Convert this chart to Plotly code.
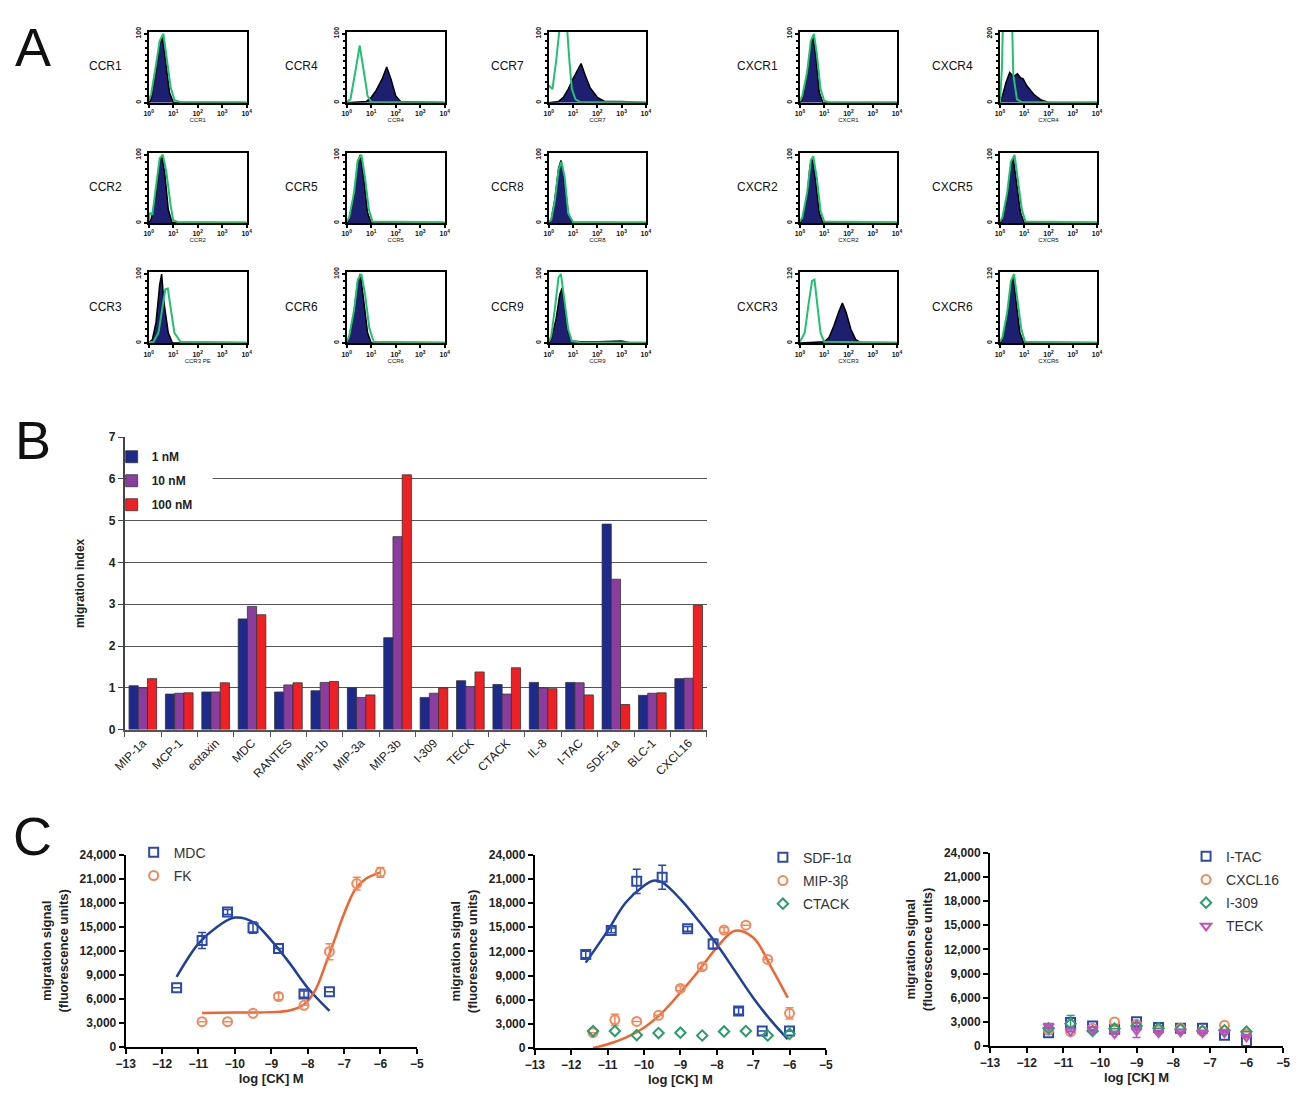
import plotly.graph_objects as go

OFF = 8                      # browser body margin
WF, HF = 1299, 1094
# measured page->picture mapping of the photographing step (picture = S*page + T)
SX, TX = 0.985, 12.5
SY, TY = 0.986, 7.4
FONT = "Liberation Sans"

# ======================= Panel A : flow histograms =======================
# x in log10 decades (10^0 .. 10^4), y in % of max
CCR1_navy_x = [0, 0.1, 0.3, 0.45, 0.57, 0.7, 0.85, 1.0, 4]
CCR1_navy_y = [0, 5, 45, 85, 95, 60, 15, 1, 0]
CCR1_green_x = [0, 0.1, 0.3, 0.45, 0.6, 0.72, 0.9, 1.05, 1.3, 4]
CCR1_green_y = [3, 12, 55, 90, 100, 70, 22, 4, 1, 1]

CCR4_navy_x = [0, 0.8, 1.0, 1.2, 1.45, 1.63, 1.8, 2.0, 2.2, 4]
CCR4_navy_y = [0, 2, 8, 18, 35, 52, 35, 10, 2, 0]
CCR4_green_x = [0, 0.15, 0.35, 0.53, 0.7, 0.85, 1.0, 4]
CCR4_green_y = [1, 5, 45, 83, 45, 10, 1, 1]

CCR7_navy_x = [0, 0.4, 0.6, 0.8, 1.0, 1.15, 1.33, 1.5, 1.7, 2.0, 2.3, 3.0, 3.5, 4]
CCR7_navy_y = [0, 2, 8, 20, 35, 45, 57, 40, 22, 8, 2, 2, 1, 0]
CCR7_green_x = [0, 0.15, 0.3, 0.45, 0.55, 0.75, 0.85, 0.95, 1.1, 1.3, 4]
CCR7_green_y = [25, 20, 60, 110, 115, 110, 60, 20, 5, 1, 1]

CXCR1_navy_x = [0, 0.1, 0.3, 0.45, 0.55, 0.65, 0.8, 0.95, 4]
CXCR1_navy_y = [0, 5, 40, 85, 95, 70, 15, 0, 0]
CXCR1_green_x = [0, 0.1, 0.3, 0.45, 0.58, 0.7, 0.85, 1.0, 1.2, 4]
CXCR1_green_y = [2, 10, 45, 90, 100, 70, 20, 3, 1, 1]

CXCR4_navy_x = [0, 0.1, 0.25, 0.4, 0.55, 0.72, 0.85, 0.95, 1.1, 1.4, 1.7, 2.05, 4]
CXCR4_navy_y = [0, 10, 30, 44, 38, 42, 36, 35, 25, 12, 4, 0, 0]
CXCR4_green_x = [0, 0.08, 0.12, 0.5, 0.55, 0.7, 0.9, 4]
CXCR4_green_y = [0, 50, 115, 115, 40, 5, 1, 1]

CCR2_navy_x = [0, 0.1, 0.3, 0.45, 0.55, 0.65, 0.8, 0.95, 4]
CCR2_navy_y = [0, 5, 40, 90, 100, 75, 20, 1, 0]
CCR2_green_x = [0, 0.05, 0.15, 0.3, 0.45, 0.58, 0.72, 0.9, 1.0, 1.2, 4]
CCR2_green_y = [3, 15, 12, 50, 95, 100, 75, 25, 4, 1, 1]

CCR5_navy_x = [0, 0.1, 0.3, 0.45, 0.55, 0.68, 0.85, 1.0, 4]
CCR5_navy_y = [0, 5, 40, 90, 100, 70, 15, 0, 0]
CCR5_green_x = [0, 0.1, 0.3, 0.45, 0.6, 0.75, 0.9, 1.05, 4]
CCR5_green_y = [2, 8, 45, 92, 100, 65, 20, 2, 1]

CCR8_navy_x = [0, 0.1, 0.25, 0.4, 0.5, 0.62, 0.8, 0.95, 4]
CCR8_navy_y = [0, 5, 35, 80, 92, 70, 15, 1, 0]
CCR8_green_x = [0, 0.1, 0.25, 0.4, 0.52, 0.65, 0.8, 1.0, 4]
CCR8_green_y = [1, 5, 33, 78, 90, 68, 14, 1, 1]

CXCR2_navy_x = [0, 0.1, 0.3, 0.42, 0.52, 0.62, 0.8, 0.95, 4]
CXCR2_navy_y = [0, 5, 40, 85, 95, 70, 15, 0, 0]
CXCR2_green_x = [0, 0.1, 0.3, 0.45, 0.55, 0.7, 0.85, 1.0, 4]
CXCR2_green_y = [2, 8, 45, 92, 98, 65, 18, 2, 1]

CXCR5_navy_x = [0, 0.1, 0.3, 0.45, 0.55, 0.67, 0.85, 1.0, 4]
CXCR5_navy_y = [0, 5, 40, 85, 95, 65, 15, 0, 0]
CXCR5_green_x = [0, 0.1, 0.3, 0.45, 0.6, 0.72, 0.9, 1.05, 4]
CXCR5_green_y = [2, 8, 45, 90, 100, 68, 20, 2, 1]

CCR3_navy_x = [0, 0.15, 0.3, 0.45, 0.53, 0.62, 0.8, 0.97, 4]
CCR3_navy_y = [0, 5, 30, 85, 100, 60, 15, 0, 0]
CCR3_green_x = [0, 0.2, 0.4, 0.55, 0.68, 0.78, 0.9, 1.05, 1.3, 4]
CCR3_green_y = [1, 2, 15, 50, 78, 79, 50, 15, 2, 1]

CCR6_navy_x = [0, 0.1, 0.3, 0.45, 0.56, 0.68, 0.85, 1.0, 4]
CCR6_navy_y = [0, 8, 45, 90, 100, 65, 15, 0, 0]
CCR6_green_x = [0, 0.1, 0.3, 0.45, 0.6, 0.75, 0.92, 1.1, 4]
CCR6_green_y = [2, 10, 48, 92, 100, 70, 22, 2, 1]

CCR9_navy_x = [0, 0.1, 0.3, 0.45, 0.55, 0.65, 0.8, 0.95, 1.3, 2.0, 2.5, 3.0, 3.3, 4]
CCR9_navy_y = [0, 5, 35, 70, 80, 55, 15, 3, 2, 2, 3, 3, 1, 0]
CCR9_green_x = [0, 0.1, 0.25, 0.4, 0.5, 0.62, 0.8, 0.95, 1.3, 4]
CCR9_green_y = [2, 10, 50, 95, 100, 70, 20, 3, 1, 1]

CXCR3_navy_x = [0, 1.0, 1.2, 1.4, 1.6, 1.75, 1.9, 2.1, 2.3, 2.5, 4]
CXCR3_navy_y = [0, 2, 8, 25, 45, 58, 45, 20, 5, 1, 0]
CXCR3_green_x = [0, 0.2, 0.35, 0.5, 0.6, 0.72, 0.85, 1.0, 4]
CXCR3_green_y = [2, 15, 55, 90, 92, 55, 15, 2, 1]

CXCR6_navy_x = [0, 0.1, 0.3, 0.45, 0.55, 0.66, 0.82, 0.98, 4]
CXCR6_navy_y = [0, 5, 40, 85, 95, 65, 15, 0, 0]
CXCR6_green_x = [0, 0.1, 0.3, 0.45, 0.58, 0.7, 0.88, 1.03, 4]
CXCR6_green_y = [2, 8, 45, 90, 100, 68, 20, 2, 1]

DECADE_TICKS = [0, 1, 2, 3, 4]
DECADE_LABELS = ["10<sup>0</sup>", "10<sup>1</sup>", "10<sup>2</sup>", "10<sup>3</sup>", "10<sup>4</sup>"]

A_PANELS = [
    ("CCR1", "CCR1", "100", CCR1_navy_x, CCR1_navy_y, CCR1_green_x, CCR1_green_y),
    ("CCR4", "CCR4", "100", CCR4_navy_x, CCR4_navy_y, CCR4_green_x, CCR4_green_y),
    ("CCR7", "CCR7", "100", CCR7_navy_x, CCR7_navy_y, CCR7_green_x, CCR7_green_y),
    ("CXCR1", "CXCR1", "100", CXCR1_navy_x, CXCR1_navy_y, CXCR1_green_x, CXCR1_green_y),
    ("CXCR4", "CXCR4", "200", CXCR4_navy_x, CXCR4_navy_y, CXCR4_green_x, CXCR4_green_y),
    ("CCR2", "CCR2", "100", CCR2_navy_x, CCR2_navy_y, CCR2_green_x, CCR2_green_y),
    ("CCR5", "CCR5", "100", CCR5_navy_x, CCR5_navy_y, CCR5_green_x, CCR5_green_y),
    ("CCR8", "CCR8", "100", CCR8_navy_x, CCR8_navy_y, CCR8_green_x, CCR8_green_y),
    ("CXCR2", "CXCR2", "100", CXCR2_navy_x, CXCR2_navy_y, CXCR2_green_x, CXCR2_green_y),
    ("CXCR5", "CXCR5", "100", CXCR5_navy_x, CXCR5_navy_y, CXCR5_green_x, CXCR5_green_y),
    ("CCR3", "CCR3 PE", "100", CCR3_navy_x, CCR3_navy_y, CCR3_green_x, CCR3_green_y),
    ("CCR6", "CCR6", "100", CCR6_navy_x, CCR6_navy_y, CCR6_green_x, CCR6_green_y),
    ("CCR9", "CCR9", "100", CCR9_navy_x, CCR9_navy_y, CCR9_green_x, CCR9_green_y),
    ("CXCR3", "CXCR3", "120", CXCR3_navy_x, CXCR3_navy_y, CXCR3_green_x, CXCR3_green_y),
    ("CXCR6", "CXCR6", "120", CXCR6_navy_x, CXCR6_navy_y, CXCR6_green_x, CXCR6_green_y),
]

# ======================= Panel B : migration index =======================
B_CATEGORIES = ["MIP-1a", "MCP-1", "eotaxin", "MDC", "RANTES", "MIP-1b", "MIP-3a", "MIP-3b",
                "I-309", "TECK", "CTACK", "IL-8", "I-TAC", "SDF-1a", "BLC-1", "CXCL16"]
B_1NM = [1.05, 0.85, 0.90, 2.65, 0.90, 0.93, 1.00, 2.20, 0.77, 1.17, 1.08, 1.13, 1.13, 4.92, 0.82, 1.22]
B_10NM = [1.00, 0.87, 0.90, 2.95, 1.07, 1.13, 0.77, 4.62, 0.87, 1.03, 0.85, 1.00, 1.12, 3.60, 0.87, 1.23]
B_100NM = [1.22, 0.88, 1.12, 2.75, 1.12, 1.15, 0.83, 6.10, 1.00, 1.38, 1.48, 0.98, 0.83, 0.60, 0.88, 2.97]

# ======================= Panel C : dose responses =======================
MDC_X = [-11.6, -10.9, -10.2, -9.5, -8.8, -8.1, -7.4]
MDC_Y = [7400, 13300, 16850, 14900, 12300, 6600, 6900]
MDC_ERR = [0, 1000, 300, 700, 0, 400, 0]
MDC_FIT_X = [-11.6, -11.0, -10.5, -10.0, -9.5, -9.0, -8.5, -8.0, -7.4]
MDC_FIT_Y = [8750, 12900, 14950, 16150, 15600, 13300, 10500, 7400, 4500]

FK_X = [-10.9, -10.2, -9.5, -8.8, -8.1, -7.4, -6.65, -6.0]
FK_Y = [3150, 3150, 4200, 6300, 5200, 11900, 20400, 21800]
FK_ERR = [0, 0, 0, 400, 0, 1000, 800, 600]
FK_FIT_X = [-10.9, -10.0, -9.0, -8.5, -8.1, -7.8, -7.5, -7.25, -7.0, -6.7, -6.4, -6.0]
FK_FIT_Y = [4250, 4300, 4350, 4550, 5300, 7000, 10400, 13500, 16600, 19600, 21000, 21800]

SDF_X = [-11.6, -10.9, -10.2, -9.5, -8.8, -8.1, -7.4, -6.75, -6.0]
SDF_Y = [11600, 14600, 20700, 21200, 14800, 12900, 4600, 2100, 2100]
SDF_ERR = [400, 300, 1500, 1500, 300, 600, 400, 0, 0]
SDF_FIT_X = [-11.6, -11.0, -10.5, -10.0, -9.75, -9.5, -9.0, -8.5, -8.0, -7.5, -7.0, -6.5, -6.05]
SDF_FIT_Y = [10600, 14550, 18070, 20150, 20770, 20560, 18490, 15790, 12890, 9570, 6250, 3360, 1100]

MIP3B_X = [-11.4, -10.8, -10.2, -9.6, -9.0, -8.4, -7.8, -7.2, -6.6, -6.0]
MIP3B_Y = [1900, 3500, 3300, 4050, 7400, 10100, 14650, 15250, 11000, 4300]
MIP3B_ERR = [0, 700, 0, 0, 300, 400, 300, 0, 0, 700]
MIP3B_FIT_X = [-11.4, -11.0, -10.5, -10.0, -9.5, -9.0, -8.5, -8.0, -7.5, -7.0, -6.5, -6.05]
MIP3B_FIT_Y = [0, 460, 1280, 2520, 4390, 6880, 9570, 12470, 14550, 13720, 9990, 6250]

CTACK_X = [-11.4, -10.8, -10.2, -9.6, -9.0, -8.4, -7.8, -7.2, -6.6, -6.0]
CTACK_Y = [2100, 2100, 1600, 1850, 1900, 1550, 2050, 2100, 1550, 1750]

C3_X = [-11.4, -10.8, -10.2, -9.6, -9.0, -8.4, -7.8, -7.2, -6.6, -6.0]
ITAC_Y = [1650, 2900, 2480, 2070, 3000, 2280, 2190, 2190, 1320, 540]
CXCL16_Y = [1950, 1780, 2190, 2980, 2690, 1950, 2190, 1860, 2570, 1450]
I309_Y = [2190, 2770, 1860, 2150, 2480, 2190, 2070, 1860, 1950, 1780]
I309_ERR = [0, 1000, 0, 0, 300, 0, 0, 0, 0, 0]
TECK_Y = [2480, 1860, 2070, 1530, 1950, 1650, 1740, 1650, 1650, 1120]
TECK_ERR = [0, 0, 0, 0, 900, 0, 0, 0, 0, 0]

# ======================= colours =======================
NAVY = "#1f1f72"
GREEN = "#22c071"
BAR_BLUE = "#1d2a8c"
BAR_PURPLE = "#8b3d9f"
BAR_RED = "#ee2024"
C_BLUE = "#2a49b0"
C_BLUE_LINE = "#1f3e9e"
C_ORANGE = "#f5875c"
C_ORANGE_LINE = "#f0652f"
C_GREEN = "#2a9d6b"
C_MAGENTA = "#c24dc0"


def px(a):
    return ((a - TX) / SX - OFF) / WF


def py(a):
    return 1 - ((a - TY) / SY - OFF) / HF


def dx(a, b):
    return [px(a), px(b)]


def dy(top, bot):
    return [py(bot), py(top)]


fig = go.Figure()
layout = dict(
    width=WF, height=HF, margin=dict(l=0, r=0, t=0, b=0),
    paper_bgcolor="white", plot_bgcolor="rgba(0,0,0,0)",
    font=dict(family=FONT, color="#222"),
    showlegend=True,
)

A_COLS = [(149, 247), (347, 445), (549, 646), (800, 897), (1000, 1097)]
A_ROWS = [(32, 103), (153, 223), (272, 343)]
A_LABEL_X = [106, 302, 508, 758, 953]

annotations = []
shapes = []
for i, (lab, xt, ytop, nx, ny, gx, gy) in enumerate(A_PANELS):
    r, c = divmod(i, 5)
    k = i + 1
    xa = "x" if k == 1 else f"x{k}"
    ya = "y" if k == 1 else f"y{k}"
    fig.add_trace(go.Scatter(x=nx, y=ny, mode="lines", fill="tozeroy", fillcolor=NAVY,
                             line=dict(color="black", width=1.5), xaxis=xa, yaxis=ya,
                             showlegend=False, hoverinfo="skip"))
    fig.add_trace(go.Scatter(x=gx, y=gy, mode="lines", line=dict(color=GREEN, width=2),
                             xaxis=xa, yaxis=ya, showlegend=False, hoverinfo="skip"))
    layout["xaxis" if k == 1 else f"xaxis{k}"] = dict(
        domain=dx(*A_COLS[c]), range=[0, 4], anchor=ya,
        showline=True, mirror=True, linecolor="black", linewidth=2,
        ticks="outside", ticklen=3, tickwidth=1.5, tickcolor="black",
        tickvals=DECADE_TICKS, ticktext=DECADE_LABELS,
        tickfont=dict(size=7, color="#111", weight="bold"),
        title=dict(text=xt, font=dict(size=6, color="#111"), standoff=0),
        showgrid=False, zeroline=False, fixedrange=True)
    layout["yaxis" if k == 1 else f"yaxis{k}"] = dict(
        domain=dy(*A_ROWS[r]), range=[0, 103], anchor=xa,
        showline=True, mirror=True, linecolor="black", linewidth=2,
        ticks="outside", ticklen=3, tickwidth=1.5, tickcolor="black",
        tickvals=[0, 100], ticktext=["0", ytop], tickangle=-90,
        tickfont=dict(size=7, color="#111", weight="bold"),
        minor=dict(dtick=10, ticks="outside", ticklen=2, tickcolor="black"),
        showgrid=False, zeroline=False, fixedrange=True)
    top, bot = A_ROWS[r]
    annotations.append(dict(text=lab, x=px(A_LABEL_X[c]), y=py((top + bot) / 2 - 1),
                            xref="paper", yref="paper", xanchor="center", yanchor="middle",
                            showarrow=False, font=dict(size=12, color="#111", family=FONT)))

# ---------------- Panel B ----------------
kB = 16
for name, vals, col in [("1 nM", B_1NM, BAR_BLUE), ("10 nM", B_10NM, BAR_PURPLE),
                        ("100 nM", B_100NM, BAR_RED)]:
    fig.add_trace(go.Bar(x=B_CATEGORIES, y=vals, name=name, marker=dict(color=col,
                         line=dict(color="#333", width=0.8)),
                         xaxis=f"x{kB}", yaxis=f"y{kB}", legend="legend", legendgroup=name))
layout["barmode"] = "group"
layout["bargap"] = 0.24
layout["bargroupgap"] = 0.0
layout[f"xaxis{kB}"] = dict(domain=dx(125, 707), anchor=f"y{kB}", type="category",
                            showline=True, linecolor="#555", linewidth=1.5,
                            ticks="outside", tickson="boundaries", ticklen=6, tickcolor="#555",
                            tickangle=-45, tickfont=dict(size=12, color="#222"),
                            showgrid=False, zeroline=False, fixedrange=True)
layout[f"yaxis{kB}"] = dict(domain=dy(437, 729), anchor=f"x{kB}", range=[0, 7], dtick=1,
                            showgrid=True, gridcolor="#555", gridwidth=1,
                            showline=True, linecolor="#444", linewidth=1.5,
                            ticks="outside", ticklen=5, tickcolor="#444",
                            tickfont=dict(size=12, color="#222", weight="bold"),
                            title=dict(text="migration index", font=dict(size=12, weight="bold"),
                                       standoff=22),
                            zeroline=False, fixedrange=True)
layout["legend"] = dict(x=px(112), y=py(442), xanchor="left", yanchor="top",
                        bgcolor="rgba(0,0,0,0)", font=dict(size=12, color="#222", weight="bold"),
                        tracegroupgap=5, itemwidth=30)
shapes.append(dict(type="rect", xref="paper", yref="paper", x0=px(127), x1=px(213),
                   y0=py(470), y1=py(488), fillcolor="white", line=dict(width=0), layer="above"))

# ---------------- Panel C ----------------
C_DOMAINS = [((126, 417), (854, 1046)), ((535, 826), (854, 1047)), ((990, 1283), (852, 1045))]


def scatter(k, x, y, name, symbol, color, err=None, legend=None, size=9):
    fig.add_trace(go.Scatter(
        x=x, y=y, mode="markers", name=name,
        marker=dict(symbol=symbol, size=size, color=color, line=dict(color=color, width=2)),
        error_y=dict(type="data", array=err, visible=True, color=color, thickness=1.5, width=4)
        if err else None,
        xaxis=f"x{k}", yaxis=f"y{k}", legend=legend, legendgroup=f"{legend}-{name}",
        showlegend=True))


def curve(k, x, y, color):
    fig.add_trace(go.Scatter(x=x, y=y, mode="lines", line=dict(color=color, width=2.5,
                             shape="spline", smoothing=1.0),
                             xaxis=f"x{k}", yaxis=f"y{k}", showlegend=False, hoverinfo="skip"))


curve(17, MDC_FIT_X, MDC_FIT_Y, C_BLUE_LINE)
curve(17, FK_FIT_X, FK_FIT_Y, C_ORANGE_LINE)
scatter(17, MDC_X, MDC_Y, "MDC", "square-open", C_BLUE, MDC_ERR, "legend2")
scatter(17, FK_X, FK_Y, "FK", "circle-open", C_ORANGE, FK_ERR, "legend2")

curve(18, SDF_FIT_X, SDF_FIT_Y, C_BLUE_LINE)
curve(18, MIP3B_FIT_X, MIP3B_FIT_Y, C_ORANGE_LINE)
scatter(18, SDF_X, SDF_Y, "SDF-1α", "square-open", C_BLUE, SDF_ERR, "legend3")
scatter(18, MIP3B_X, MIP3B_Y, "MIP-3β", "circle-open", C_ORANGE, MIP3B_ERR, "legend3")
scatter(18, CTACK_X, CTACK_Y, "CTACK", "diamond-open", C_GREEN, None, "legend3", size=8)

scatter(19, C3_X, ITAC_Y, "I-TAC", "square-open", C_BLUE, None, "legend4")
scatter(19, C3_X, CXCL16_Y, "CXCL16", "circle-open", C_ORANGE, None, "legend4")
scatter(19, C3_X, I309_Y, "I-309", "diamond-open", C_GREEN, I309_ERR, "legend4", size=8)
scatter(19, C3_X, TECK_Y, "TECK", "triangle-down-open", C_MAGENTA, TECK_ERR, "legend4")

for j, ((x0, x1), (yt, yb)) in enumerate(C_DOMAINS):
    k = 17 + j
    layout[f"xaxis{k}"] = dict(domain=dx(x0, x1), anchor=f"y{k}", range=[-13, -5], dtick=1,
                               showline=True, linecolor="black", linewidth=2,
                               ticks="outside", ticklen=5, tickwidth=2, tickcolor="black",
                               tickfont=dict(size=12, color="#222", weight="bold"),
                               title=dict(text="log [CK] M", font=dict(size=13, weight="bold"),
                                          standoff=4),
                               showgrid=False, zeroline=False, fixedrange=True)
    layout[f"yaxis{k}"] = dict(domain=dy(yt, yb), anchor=f"x{k}", range=[0, 24000], dtick=3000,
                               tickformat=",d",
                               showline=True, linecolor="black", linewidth=2,
                               ticks="outside", ticklen=5, tickwidth=2, tickcolor="black",
                               tickfont=dict(size=12, color="#222", weight="bold"),
                               title=dict(text="migration signal<br>(fluorescence units)",
                                          font=dict(size=13, weight="bold"), standoff=8),
                               showgrid=False, zeroline=False, fixedrange=True)

leg_common = dict(xanchor="left", yanchor="top", bgcolor="rgba(0,0,0,0)",
                  font=dict(size=14, color="#333"), tracegroupgap=2, itemwidth=30)
layout["legend2"] = dict(x=px(134), y=py(836), **leg_common)
layout["legend3"] = dict(x=px(763), y=py(841), **leg_common)
layout["legend4"] = dict(x=px(1186), y=py(840), **leg_common)

# panel letters ("A" sits at the very top: anchor its box to the figure top)
annotations.append(dict(text="A", x=px(33), y=1.0, xref="paper", yref="paper",
                        xanchor="center", yanchor="top", showarrow=False,
                        font=dict(size=54, color="#111", family=FONT)))
for letter, lx, ly in [("B", 33, 440), ("C", 33, 835)]:
    annotations.append(dict(text=letter, x=px(lx), y=py(ly), xref="paper", yref="paper",
                            xanchor="center", yanchor="middle", showarrow=False,
                            font=dict(size=54, color="#111", family=FONT)))

layout["annotations"] = annotations
layout["shapes"] = shapes
fig.update_layout(**layout)
fig.write_html("out.html")
